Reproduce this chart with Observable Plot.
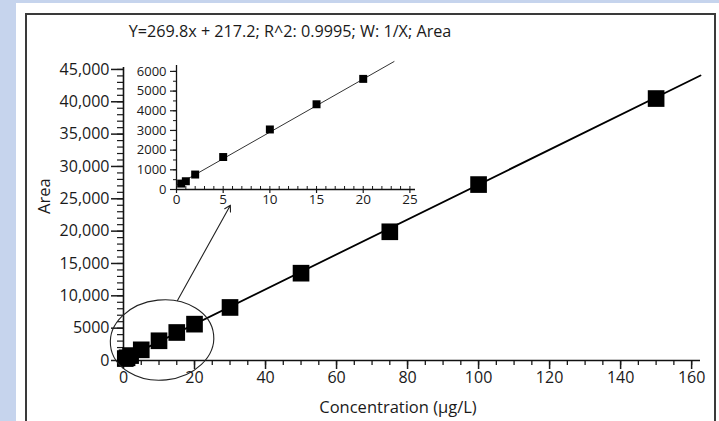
<!DOCTYPE html>
<html>
<head>
<meta charset="utf-8">
<script src="https://cdn.jsdelivr.net/npm/d3@7"></script>
<script src="https://cdn.jsdelivr.net/npm/@observablehq/plot@0.6"></script>
<style>
  html, body { margin: 0; padding: 0; }
  #wrap { position: relative; width: 719px; height: 421px; overflow: hidden; background: #c6d4ed; font-family: "Open Sans", sans-serif; }
  #panel { position: absolute; left: 16px; top: 3px; width: 703px; height: 418px; background: #fff; }
  #frame { position: absolute; left: 25px; top: 13px; width: 691px; height: 430px; border: 2px solid #3a3a3a; box-sizing: border-box; }
  #main, #inset { position: absolute; left: 0; top: 0; }
  #inset { left: 130px; top: 55px; }
  svg { background: transparent !important; overflow: visible; }
</style>
</head>
<body>
<div id="wrap"><div id="panel"></div><div id="frame"></div><div id="main"></div><div id="inset"></div></div>
<script>
// ---- data ----
const concentration = [0.5, 1, 2, 5, 10, 15, 20, 30, 50, 75, 100, 150];
const area          = [300, 420, 760, 1650, 3050, 4330, 5620, 8200, 13500, 19900, 27200, 40500];

const fitX = [0, 162.5];
const fitY = [217, 44060];

const insetConcentration = [0.5, 1, 2, 5, 10, 15, 20];
const insetArea          = [300, 420, 760, 1650, 3050, 4330, 5620];
const insetFitX = [0, 23.3];
const insetFitY = [217, 6500];

const xTicks = [0, 20, 40, 60, 80, 100, 120, 140, 160];
const xMinorTicks = d3.range(0, 161, 5);
const yTicks = [0, 5000, 10000, 15000, 20000, 25000, 30000, 35000, 40000, 45000];
const yTickLabels = ["0", "5000", "10,000", "15,000", "20,000", "25,000", "30,000", "35,000", "40,000", "45,000"];
const yMinorTicks = d3.range(0, 45001, 1000);

const insetXTicks = [0, 5, 10, 15, 20, 25];
const insetXMinorTicks = d3.range(0, 26, 1);
const insetYTicks = [0, 1000, 2000, 3000, 4000, 5000, 6000];
const insetYTickLabels = ["0", "1000", "2000", "3000", "4000", "5000", "6000"];
const insetYMinorTicks = d3.range(0, 6001, 500);

const titleText = "Y=269.8x + 217.2; R^2: 0.9995; W: 1/X; Area";
const xLabel = "Concentration (\u00b5g/L)";
const yLabel = "Area";

// annotation: ellipse around the low points and arrow to the inset (data units)
const ellipseCenter = [11, 3090];
const ellipseRadii = [14.6, 6200];
const ellipseTilt = -6;
const arrowFrom = [15.2, 9290];
const arrowTo = [30.1, 24000];

// ---- build tables ----
const points = concentration.map((c, i) => ({c, a: area[i]}));
const fit = fitX.map((c, i) => ({c, a: fitY[i]}));
const insetPoints = insetConcentration.map((c, i) => ({c, a: insetArea[i]}));
const insetFit = insetFitX.map((c, i) => ({c, a: insetFitY[i]}));
const yLabelMap = new Map(yTicks.map((t, i) => [t, yTickLabels[i]]));
const insetYLabelMap = new Map(insetYTicks.map((t, i) => [t, insetYTickLabels[i]]));

const ellipseMark = (index, scales) => {
  const cx = scales.x(ellipseCenter[0]);
  const cy = scales.y(ellipseCenter[1]);
  const rx = scales.x(ellipseCenter[0] + ellipseRadii[0]) - cx;
  const ry = cy - scales.y(ellipseCenter[1] + ellipseRadii[1]);
  const g = d3.create("svg:ellipse")
    .attr("cx", cx).attr("cy", cy).attr("rx", rx).attr("ry", ry)
    .attr("transform", `rotate(${ellipseTilt} ${cx} ${cy})`)
    .attr("fill", "none").attr("stroke", "#222").attr("stroke-width", 1.1);
  return g.node();
};

const main = Plot.plot({
  width: 719,
  height: 421,
  marginLeft: 123,
  marginRight: 19,
  marginTop: 67,
  marginBottom: 61,
  style: {fontFamily: "Open Sans, sans-serif", fontSize: "16px", color: "#1a1a1a", background: "transparent"},
  x: {domain: [0, 162.5]},
  y: {domain: [0, 45300]},
  marks: [
    Plot.axisX({ticks: xMinorTicks, tickSize: 5, text: null, label: null, strokeWidth: 1.3}),
    Plot.axisX({ticks: xTicks, tickSize: 9, tickPadding: 2, label: null, strokeWidth: 1.5, fontSize: 16}),
    Plot.axisY({ticks: yMinorTicks, tickSize: 6, text: null, label: null, strokeWidth: 1.2}),
    Plot.axisY({ticks: yTicks, tickSize: 12, tickPadding: 2, label: null, strokeWidth: 1.5, fontSize: 16,
      tickFormat: d => yLabelMap.get(d)}),
    Plot.ruleY([0], {stroke: "#111", strokeWidth: 1.6}),
    Plot.ruleX([0], {stroke: "#111", strokeWidth: 1.6}),
    Plot.line(fit, {x: "c", y: "a", stroke: "#000", strokeWidth: 1.8}),
    Plot.dot(points, {x: "c", y: "a", symbol: "square", r: 9.4, fill: "#000", stroke: "none"}),
    ellipseMark,
    Plot.arrow([{x1: arrowFrom[0], y1: arrowFrom[1], x2: arrowTo[0], y2: arrowTo[1]}],
      {x1: "x1", y1: "y1", x2: "x2", y2: "y2", stroke: "#222", strokeWidth: 1.1, headLength: 9}),
    Plot.text([titleText], {frameAnchor: "top", dx: -122, dy: -42, fontSize: 16.2, fill: "#1a1a1a"}),
    Plot.text([xLabel], {frameAnchor: "bottom", dx: -14, dy: 52, fontSize: 16.5, fill: "#1a1a1a"}),
    Plot.text([yLabel], {frameAnchor: "left", dx: -79, rotate: -90, fontSize: 16.5, fill: "#1a1a1a"})
  ]
});
document.getElementById("main").append(main);

const inset = Plot.plot({
  width: 300,
  height: 160,
  marginLeft: 46,
  marginRight: 15,
  marginTop: 10,
  marginBottom: 26,
  style: {fontFamily: "Open Sans, sans-serif", fontSize: "13px", color: "#1a1a1a", background: "transparent"},
  x: {domain: [0, 25.6]},
  y: {domain: [0, 6300]},
  marks: [
    Plot.axisX({ticks: insetXMinorTicks, tickSize: 3, dy: -3, text: null, label: null, strokeWidth: 1}),
    Plot.axisX({ticks: insetXTicks, tickSize: 4, tickPadding: 1, label: null, strokeWidth: 1.2, fontSize: 13.5}),
    Plot.axisY({ticks: insetYMinorTicks, tickSize: 3, text: null, label: null, strokeWidth: 1}),
    Plot.axisY({ticks: insetYTicks, tickSize: 6, tickPadding: 4, label: null, strokeWidth: 1.2, fontSize: 13,
      tickFormat: d => insetYLabelMap.get(d)}),
    Plot.ruleY([0], {stroke: "#111", strokeWidth: 1.3}),
    Plot.ruleX([0], {stroke: "#111", strokeWidth: 1.3}),
    Plot.line(insetFit, {x: "c", y: "a", stroke: "#333", strokeWidth: 1}),
    Plot.dot(insetPoints, {x: "c", y: "a", symbol: "square", r: 4.5, fill: "#000", stroke: "none"})
  ]
});
document.getElementById("inset").append(inset);
</script>
</body>
</html>
